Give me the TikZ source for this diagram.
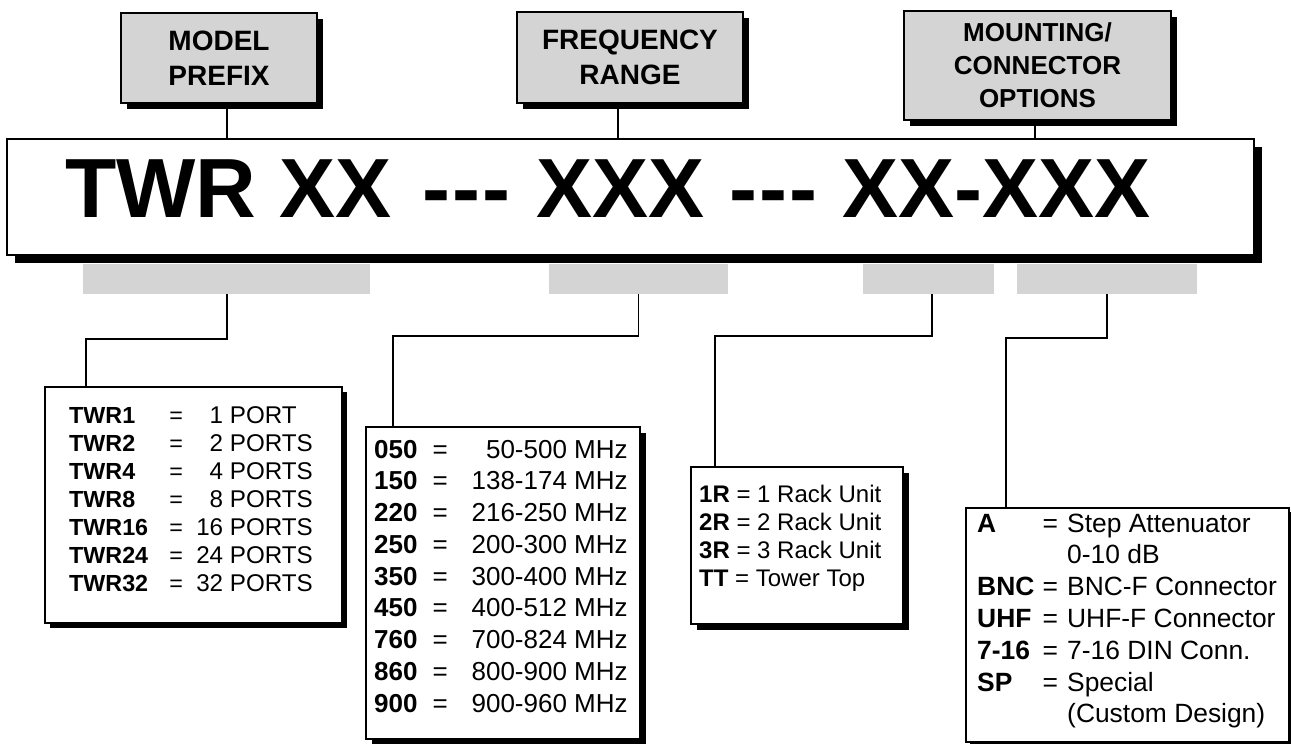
\documentclass[tikz,border=0pt]{standalone}
\usepackage{fontspec}
\setmainfont{Liberation Sans}
\usetikzlibrary{shadows}
\definecolor{boxgray}{RGB}{212,212,212}
\newcommand\prow[3]{\makebox[100pt][l]{\bfseries #1}\makebox[14pt][c]{=}{\fontsize{24.2}{28}\selectfont\makebox[40pt][r]{#2}\ #3}}
\newcommand\frow[2]{\makebox[58.5pt][l]{\bfseries #1}\makebox[15pt][c]{=}\makebox[180pt][r]{#2}}
\newcommand\orow[3]{\makebox[65.5pt][l]{\bfseries #1}\makebox[15pt][c]{#2}\hspace{9.5pt}#3}
\begin{document}
\begin{tikzpicture}[x=1pt,y=-1pt,
  shad/.style={general shadow={fill=black, shadow xshift=#1, shadow yshift=-#1}},
  titlebox/.style={draw=black, line width=1.5pt, fill=boxgray, shad=6pt, inner sep=0pt, align=center, font=\fontsize{28}{35}\selectfont\bfseries},
  mainbox/.style={draw=black, line width=1.5pt, fill=white, shad=8pt, inner sep=0pt},
  maintext/.style={anchor=base west, inner sep=0pt, font=\fontsize{84}{90}\selectfont\bfseries},
  bar/.style={fill=boxgray, inner sep=0pt, minimum height=30pt},
  listbox/.style={draw=black, line width=1.5pt, fill=white, inner sep=0pt, anchor=north west},
  listtext/.style={anchor=base west, inner sep=0pt},
  wire/.style={line width=1.5pt}]
\useasboundingbox (0,0) rectangle (1291,744);

% title boxes
\node[titlebox, minimum width=196pt, minimum height=90pt] (model) at (219,58) {MODEL\\PREFIX};
\node[titlebox, minimum width=226pt, minimum height=91pt] (freq) at (630,57.5) {FREQUENCY\\RANGE};
\node[titlebox, font=\fontsize{26}{33}\selectfont\bfseries, minimum width=267pt, minimum height=109pt] (mount) at (1037.5,65.5) {MOUNTING/\\CONNECTOR\\OPTIONS};

% main box
\node[mainbox, minimum width=1247pt, minimum height=116pt] (main) at (630.5,197) {};
\node[maintext] (t1) at (65,217) {TWR XX};
\node[maintext] (t2) at (422,217) {-\kern2pt-\kern2pt-};
\node[maintext] (t3) at (536,217) {XXX};
\node[maintext] (t4) at (729,217) {-\kern2pt-\kern2pt-};
\node[maintext] (t5) at (842,217) {XX-XXX};

\draw[wire] ([xshift=8pt]model.south) -- ([xshift=8pt]model.south |- main.north);
\draw[wire] ([xshift=-12pt]freq.south) -- ([xshift=-12pt]freq.south |- main.north);
\draw[wire] ([xshift=-2.5pt]mount.south) -- ([xshift=-2.5pt]mount.south |- main.north);

% gray bars
\node[bar, minimum width=287pt] (b1) at (226.5,279) {};
\node[bar, minimum width=179pt] (b2) at (638.5,279) {};
\node[bar, minimum width=131pt] (b3) at (928.5,279) {};
\node[bar, minimum width=180pt] (b4) at (1107,279) {};

% list boxes
\node[listbox, shad=5pt, minimum width=297pt, minimum height=236pt] (box1) at (44,386) {};
\node[listbox, shad=6pt, minimum width=274pt, minimum height=312pt] (box2) at (365,426) {};
\node[listbox, shad=6pt, minimum width=212pt, minimum height=157pt] (box3) at (690,466) {};
\node[listbox, shad=4pt, minimum width=323pt, minimum height=234pt] (box4) at (965,507) {};

\draw[wire] ([xshift=0.5pt]b1.south) -- ++(0,45) -| ([xshift=42pt]box1.north west);
\draw[wire] (b2.south) -- ++(0,42) -| ([xshift=28pt]box2.north west);
\draw[wire] ([xshift=3.5pt]b3.south) -- ++(0,42) -| ([xshift=25pt]box3.north west);
\draw[wire] (b4.south) -- ++(0,44) -| ([xshift=41pt]box4.north west);

% list texts
\node[listtext, font=\fontsize{23.3}{28}\selectfont] (l1) at (69,423) {\begin{tabular}[t]{@{}l@{}}
\prow{TWR1}{1}{PORT}\\
\prow{TWR2}{2}{PORTS}\\
\prow{TWR4}{4}{PORTS}\\
\prow{TWR8}{8}{PORTS}\\
\prow{TWR16}{16}{PORTS}\\
\prow{TWR24}{24}{PORTS}\\
\prow{TWR32}{32}{PORTS}
\end{tabular}};

\node[listtext, font=\fontsize{26}{31.75}\selectfont] (l2) at (374,458) {\begin{tabular}[t]{@{}l@{}}
\frow{050}{50-500 MHz}\\
\frow{150}{138-174 MHz}\\
\frow{220}{216-250 MHz}\\
\frow{250}{200-300 MHz}\\
\frow{350}{300-400 MHz}\\
\frow{450}{400-512 MHz}\\
\frow{760}{700-824 MHz}\\
\frow{860}{800-900 MHz}\\
\frow{900}{900-960 MHz}
\end{tabular}};

\node[listtext, font=\fontsize{24}{28.3}\selectfont] (l3) at (699,502) {\begin{tabular}[t]{@{}l@{}}
\textbf{1R} = 1 Rack Unit\\
\textbf{2R} = 2 Rack Unit\\
\textbf{3R} = 3 Rack Unit\\
\textbf{TT} = Tower Top
\end{tabular}};

\node[listtext, font=\fontsize{26.4}{31.8}\selectfont] (l4) at (977,532) {\begin{tabular}[t]{@{}l@{}}
\orow{A}{=}{Step Attenuator}\\
\orow{}{}{0-10 dB}\\
\orow{BNC}{=}{BNC-F Connector}\\
\orow{UHF}{=}{UHF-F Connector}\\
\orow{7-16}{=}{7-16 DIN Conn.}\\
\orow{SP}{=}{Special}\\
\orow{}{}{(Custom Design)}
\end{tabular}};
\end{tikzpicture}
\end{document}
